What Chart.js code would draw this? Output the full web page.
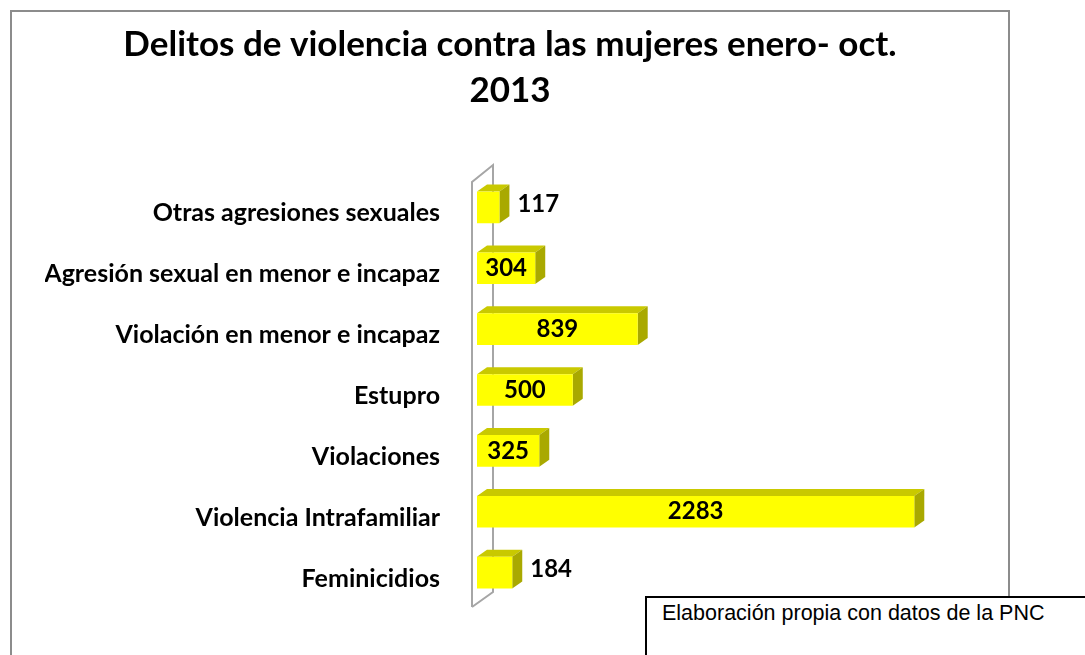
<!DOCTYPE html>
<html>
<head>
<meta charset="utf-8">
<script src="https://cdn.jsdelivr.net/npm/chart.js@4"></script>
<style>
  body { margin: 0; background: #fff; width: 1085px; height: 655px; overflow: hidden; position: relative; }
  #marco { position: absolute; left: 10px; top: 10px; width: 996px; height: 660px; border: 2px solid #8c8c8c; }
  #nota {
    position: absolute; left: 645px; top: 596px; width: 460px; height: 80px;
    border: 2px solid #000; background: #fff; box-sizing: border-box;
    font-family: 'Liberation Sans', Arial, sans-serif; font-size: 21.5px; line-height: 24px;
    padding: 3px 0 0 15px; color: #000;
  }
</style>
</head>
<body>
<div id="marco"><canvas id="grafico" width="996" height="643"></canvas></div>
<div id="nota">Elaboración propia con datos de la PNC</div>
<script>
// datos (de arriba hacia abajo, como en el original)
var categorias = [
  'Otras agresiones sexuales',
  'Agresión sexual en menor e incapaz',
  'Violación en menor e incapaz',
  'Estupro',
  'Violaciones',
  'Violencia Intrafamiliar',
  'Feminicidios'
];
var delitos = [117, 304, 839, 500, 325, 2283, 184];
var titulo = ['Delitos de violencia contra las mujeres enero- oct.', '2013'];

var DX = 10, DY = -7; // profundidad del efecto 3D

// caras superior y lateral de las barras + la pared del eje
const caras3d = {
  id: 'caras3d',
  beforeDatasetsDraw(chart) {
    var ctx = chart.ctx;
    var a = chart.chartArea;
    ctx.save();
    ctx.strokeStyle = '#a6a6a6';
    ctx.lineWidth = 2;
    ctx.beginPath();
    ctx.moveTo(a.left - 5, a.bottom + 4);
    ctx.lineTo(a.left - 5, a.top + 5);
    ctx.lineTo(a.left + 16, a.top - 12);
    ctx.lineTo(a.left + 16, a.bottom - 11);
    ctx.lineTo(a.left - 5, a.bottom + 4);
    ctx.stroke();

    chart.getDatasetMeta(0).data.forEach(function (bar) {
      var top = bar.y - bar.height / 2;
      var bottom = bar.y + bar.height / 2;
      ctx.fillStyle = '#c9c900';
      ctx.beginPath();
      ctx.moveTo(bar.base, top);
      ctx.lineTo(bar.x, top);
      ctx.lineTo(bar.x + DX, top + DY);
      ctx.lineTo(bar.base + DX, top + DY);
      ctx.closePath();
      ctx.fill();
      ctx.fillStyle = '#a9a900';
      ctx.beginPath();
      ctx.moveTo(bar.x, top);
      ctx.lineTo(bar.x + DX, top + DY);
      ctx.lineTo(bar.x + DX, bottom + DY);
      ctx.lineTo(bar.x, bottom);
      ctx.closePath();
      ctx.fill();
    });
    ctx.restore();
  }
};

// etiquetas de valor
const etiquetas = {
  id: 'etiquetas',
  afterDatasetsDraw(chart) {
    var ctx = chart.ctx;
    ctx.save();
    ctx.font = 'bold 24px Lato';
    ctx.fillStyle = '#000';
    ctx.textBaseline = 'middle';
    chart.getDatasetMeta(0).data.forEach(function (bar, i) {
      var txt = String(delitos[i]);
      var w = ctx.measureText(txt).width;
      var largo = bar.x - bar.base;
      if (w + 10 < largo) {
        ctx.textAlign = 'center';
        ctx.fillText(txt, (bar.x + bar.base) / 2, bar.y);
      } else {
        ctx.textAlign = 'left';
        ctx.fillText(txt, bar.x + DX + 8, bar.y - 3);
      }
    });
    ctx.restore();
  }
};

new Chart(document.getElementById('grafico'), {
  type: 'bar',
  data: {
    labels: categorias,
    datasets: [{
      data: delitos,
      backgroundColor: '#ffff00',
      borderWidth: 0,
      barPercentage: 0.52,
      categoryPercentage: 1
    }]
  },
  options: {
    indexAxis: 'y',
    responsive: false,
    animation: false,
    layout: { padding: { left: 33, right: 33, top: 0, bottom: 34 } },
    scales: {
      x: { display: false, min: 0, max: 2600 },
      y: {
        grid: { display: false, drawTicks: false },
        border: { display: false },
        ticks: {
          padding: 37,
          labelOffset: 6,
          color: '#000',
          font: { family: 'Lato', size: 25, weight: 'bold' }
        },
        afterFit: function (scale) { scale.width = 432; }
      }
    },
    plugins: {
      legend: { display: false },
      tooltip: { enabled: false },
      title: {
        display: true,
        text: titulo,
        color: '#000',
        font: { family: 'Lato', size: 35, weight: 'bold', lineHeight: '46px' },
        padding: { top: 10, bottom: 63 }
      }
    }
  },
  plugins: [caras3d, etiquetas]
});
</script>
</body>
</html>
